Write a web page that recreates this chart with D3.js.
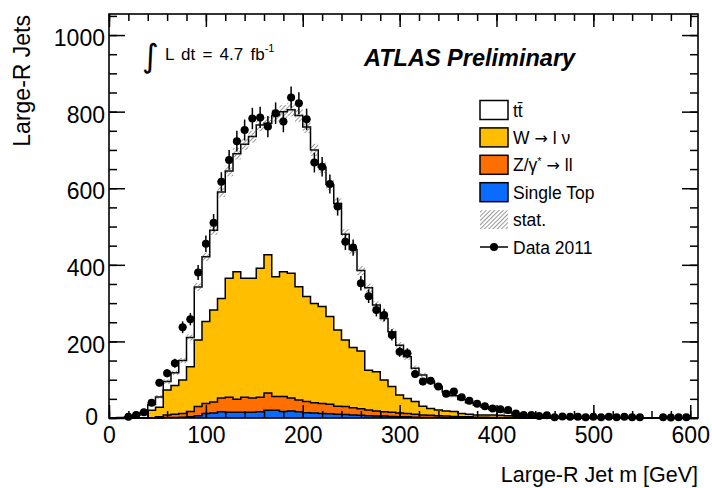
<!DOCTYPE html>
<html>
<head>
<meta charset="utf-8">
<script src="https://cdn.jsdelivr.net/npm/d3@7"></script>
<style>
body { margin: 0; background: #fff; }
text { font-family: 'Liberation Sans', Arial, Helvetica, sans-serif; fill: #000; }
</style>
</head>
<body>
<div id="chart"></div>
<script>
// bins: low edge in GeV, all 8 GeV wide
const binLow = [0,8,16,24,32,40,48,56,64,72,80,88,96,104,112,120,128,136,144,152,160,168,176,184,192,200,208,216,224,232,240,248,256,264,272,280,288,296,304,312,320,328,336,344,352,360,368,376,384,392,400,408,416,424,432,440,448,456,464,472,480,488,496,504,512,520,528,536,544,552,560,568,576,584,592,600];
const binWidth = 8;

// MC samples (events per bin)
const ttbar = [0,1,3,7,15,15,27,22,33,51,76,138,169,208,278,280,308,350,370,374,344,421,418,427,447,443,401,364,345,330,276,256,210,215,174,161,143,130,109,87,81,70,61,50,41,36,30,26,20,14,11,8,5,7,5,4,3,2.5,2,2,1.5,1.5,1.2,1,1,0.8,0.8,0.6,0.6,0.5,0.5,0.4,0.4,0.3,0.3,0.2];
const wlnu = [0,0,0,0,0,20,25,65,75,87,117,174,214,240,260,311,333,311,313,337,361,313,326,326,296,274,259,253,229,199,174,157,151,104,103,83,67,47,39,33,23,18,15,13,13,9,7,6,6,7,6,5,4,0,0,0,0,0,0,0,0,0,0,0,0,0,0,0,0,0,0,0,0,0,0,0];
const zll = [0,0,0,0,0,0,3,7,9,10,14,24,26,29,36,39,34,39,37,38,45,36,39,34,31,29,27,26,25,21,21,19,17,15,13,11,11,10,9,8,7,6,5,5,4,3,3,2,2,1,1,1,1,0,0,0,0,0,0,0,0,0,0,0,0,0,0,0,0,0,0,0,0,0,0,0];
const singleTop = [0,0,0,0,0,0,0,1,1,2,3,6,12,13,16,15,15,15,15,16,20,20,17,18,16,14,13,12,11,10,9,8,7,6,5,5,4,3,3,2,1,1,1,0,0,0,0,0,0,0,0,0,0,0,0,0,0,0,0,0,0,0,0,0,0,0,0,0,0,0,0,0,0,0,0,0];
// MC statistical uncertainty on the total
const statErr = [0,0.5,1.5,2,3,4,5,6,6,7,8,10,11,12,13,14,15,15,16,16,16,16,17,17,17,16,16,15,15,14,13,12,12,11,10,10,9,8,8,7,6,6,5,5,4,4,4,3,3,3,3,2,2,2,2,1.5,1.5,1.5,1,1,1,1,0.8,0.8,0.6,0.6,0.6,0.5,0.5,0.5,0.5,0.4,0.4,0.3,0.3,0.2];

// Data 2011 (null = empty bin)
const data2011 = [null,null,3,8,15,40,92,117,143,237,258,380,455,510,617,674,723,752,782,785,761,796,774,837,822,780,667,656,611,552,460,445,352,318,282,269,217,173,169,115,95,97,82,63,69,54,45,37,31,25,23,21,12,8,8,5,7,2,4,3,3,2,3,2,3,2,3,2,2,null,null,2,1,2,2,null];
const dataErr = [0,0,1.7,2.8,3.9,6.3,9.6,10.8,12,15.4,16,19.5,21.3,22.6,24.8,26,26.9,27.4,28,28,27.6,28.2,27.8,28.9,28.7,27.9,25.8,25.6,24.7,23.5,21.4,21.1,18.8,17.8,16.8,16.4,14.7,13.2,13,10.7,9.7,9.8,9.1,7.9,8.3,7.3,6.7,6.1,5.6,5,4.8,4.6,3.5,2.8,2.8,2.2,2.6,1.4,2,1.7,1.7,1.4,1.7,1.4,1.7,1.4,1.7,1.4,1.4,0,0,1.4,1,1.4,1.4,0];

const xTicks = [0,100,200,300,400,500,600];
const xMinor = d3.range(0, 608, 20);
const yTicks = [0,200,400,600,800,1000];
const yMinor = d3.range(0, 1055, 50);

const width = 712;
const height = 488;

const svg = d3.select('#chart').append('svg')
  .attr('width', width)
  .attr('height', height);

const x = d3.scaleLinear().domain([0, 608]).range([109, 698]);
const y = d3.scaleLinear().domain([0, 1055]).range([418, 14]);

//hatch for the stat band
const defs = svg.append('defs');
defs.append('pattern')
  .attr('id', 'hatch')
  .attr('patternUnits', 'userSpaceOnUse')
  .attr('width', 3)
  .attr('height', 3)
  .attr('patternTransform', 'rotate(45)')
  .append('line')
  .attr('x1', 0).attr('y1', 0).attr('x2', 0).attr('y2', 3)
  .attr('stroke', '#555')
  .attr('stroke-width', 1.2);

//stack the samples: single top at the bottom, ttbar on top
const rows = binLow.map((lo, i) => ({
  lo: lo, st: singleTop[i], z: zll[i], w: wlnu[i], tt: ttbar[i]
}));
const keys = ['st', 'z', 'w', 'tt'];
const colors = { st: '#0a6cff', z: '#ff6f00', w: '#ffbe00', tt: '#ffffff' };
const series = d3.stack().keys(keys)(rows);

//each bin contributes a point at its low and high edge
function stepPoints(layer) {
  const pts = [];
  layer.forEach(d => {
    pts.push({ x: d.data.lo, y0: d[0], y1: d[1] });
    pts.push({ x: d.data.lo + binWidth, y0: d[0], y1: d[1] });
  });
  return pts;
}

const area = d3.area()
  .x(d => x(d.x))
  .y0(d => y(d.y0))
  .y1(d => y(d.y1));
const topLine = d3.line()
  .x(d => x(d.x))
  .y(d => y(d.y1));

const g = svg.append('g');
series.forEach(layer => {
  g.append('path')
    .attr('d', area(stepPoints(layer)))
    .attr('fill', colors[layer.key])
    .attr('stroke', 'none');
});
series.forEach(layer => {
  g.append('path')
    .attr('d', topLine(stepPoints(layer)))
    .attr('fill', 'none')
    .attr('stroke', '#000')
    .attr('stroke-width', 1.5);
});

//stat band on the total
const total = series[series.length - 1];
g.selectAll('rect.stat')
  .data(total)
  .enter().append('rect')
  .attr('class', 'stat')
  .attr('x', (d, i) => x(binLow[i]))
  .attr('width', x(binWidth) - x(0))
  .attr('y', (d, i) => y(d[1] + statErr[i]))
  .attr('height', (d, i) => y(d[1] - statErr[i]) - y(d[1] + statErr[i]))
  .attr('fill', 'url(#hatch)');

//data points with errors
const pts = binLow.map((lo, i) => ({ c: lo + binWidth / 2, v: data2011[i], e: dataErr[i] }))
  .filter(d => d.v !== null);
const dg = svg.append('g');
dg.selectAll('line.ey')
  .data(pts)
  .enter().append('line')
  .attr('x1', d => x(d.c)).attr('x2', d => x(d.c))
  .attr('y1', d => y(d.v + d.e)).attr('y2', d => y(Math.max(d.v - d.e, 0)))
  .attr('stroke', '#000').attr('stroke-width', 1.5);
dg.selectAll('line.ex')
  .data(pts)
  .enter().append('line')
  .attr('x1', d => x(d.c - binWidth / 2)).attr('x2', d => x(d.c + binWidth / 2))
  .attr('y1', d => y(d.v)).attr('y2', d => y(d.v))
  .attr('stroke', '#000').attr('stroke-width', 1.5);
dg.selectAll('circle')
  .data(pts)
  .enter().append('circle')
  .attr('cx', d => x(d.c))
  .attr('cy', d => y(d.v))
  .attr('r', 4)
  .attr('fill', '#000');

//axes, ticks pointing inwards on all four sides
function styleAxis(sel) {
  sel.select('.domain').remove();
  sel.selectAll('line').attr('stroke', '#000').attr('stroke-width', 1.5);
  sel.selectAll('text').style('font-size', '23px').style('font-family', "'Liberation Sans', Arial, sans-serif");
}
svg.append('g').attr('transform', 'translate(0,418)')
  .call(d3.axisBottom(x).tickValues(xTicks).tickSize(-13).tickPadding(9).tickFormat(d3.format('d')))
  .call(styleAxis);
svg.append('g').attr('transform', 'translate(0,418)')
  .call(d3.axisBottom(x).tickValues(xMinor).tickSize(-7).tickFormat(''))
  .call(styleAxis);
svg.append('g').attr('transform', 'translate(0,14)')
  .call(d3.axisTop(x).tickValues(xTicks).tickSize(-13).tickFormat(''))
  .call(styleAxis);
svg.append('g').attr('transform', 'translate(0,14)')
  .call(d3.axisTop(x).tickValues(xMinor).tickSize(-7).tickFormat(''))
  .call(styleAxis);
const yAx = svg.append('g').attr('transform', 'translate(109,0)')
  .call(d3.axisLeft(y).tickValues(yTicks).tickSize(-16).tickPadding(4).tickFormat(d3.format('d')))
  .call(styleAxis);
yAx.selectAll('text').attr('dy', '0.46em');
yAx.selectAll('.tick').filter(d => d === 0).select('text').attr('x', -11).attr('dy', '0.3em');
svg.append('g').attr('transform', 'translate(109,0)')
  .call(d3.axisLeft(y).tickValues(yMinor).tickSize(-8).tickFormat(''))
  .call(styleAxis);
svg.append('g').attr('transform', 'translate(698,0)')
  .call(d3.axisRight(y).tickValues(yTicks).tickSize(-16).tickFormat(''))
  .call(styleAxis);
svg.append('g').attr('transform', 'translate(698,0)')
  .call(d3.axisRight(y).tickValues(yMinor).tickSize(-8).tickFormat(''))
  .call(styleAxis);

//frame
svg.append('rect')
  .attr('x', 109).attr('y', 14)
  .attr('width', 698 - 109).attr('height', 418 - 14)
  .attr('fill', 'none')
  .attr('stroke', '#000')
  .attr('stroke-width', 1.6);

//axis titles
svg.append('text')
  .attr('x', 698).attr('y', 482)
  .style('font-size', '21.5px')
  .style('text-anchor', 'end')
  .text('Large-R Jet m [GeV]');
svg.append('text')
  .attr('transform', 'translate(30,15) rotate(-90)')
  .style('font-size', '23px')
  .style('text-anchor', 'end')
  .text('Large-R Jets');

//luminosity
svg.append('text')
  .attr('x', 142).attr('y', 67)
  .style('font-size', '32px')
  .style('font-family', "'DejaVu Sans', sans-serif")
  .text('\u222B');
const lumi = svg.append('text')
  .attr('x', 165).attr('y', 60)
  .style('font-size', '17px')
  .style('word-spacing', '2.5px');
lumi.append('tspan').text('L dt = 4.7 fb');
lumi.append('tspan').attr('dy', -8).style('font-size', '11px').text('-1');

svg.append('text')
  .attr('x', 364).attr('y', 66)
  .style('font-size', '23.5px')
  .style('font-weight', 'bold')
  .style('font-style', 'italic')
  .text('ATLAS Preliminary');

//legend
const legendItems = [
  { key: 'tt', label: 'tt\u0304', fill: '#ffffff' },
  { key: 'w', label: 'W \u2192 l \u03BD', fill: colors.w },
  { key: 'z', label: 'Z/\u03B3* \u2192 ll', fill: colors.z },
  { key: 'st', label: 'Single Top', fill: colors.st },
  { key: 'stat', label: 'stat.', fill: 'url(#hatch)' },
  { key: 'data', label: 'Data 2011', fill: null }
];
const arrowFont = "'DejaVu Sans', sans-serif";
const lg = svg.append('g');
legendItems.forEach((it, i) => {
  const cy = 110 + i * 27.4;
  if (it.key === 'data') {
    lg.append('line')
      .attr('x1', 480).attr('x2', 508).attr('y1', cy).attr('y2', cy)
      .attr('stroke', '#000').attr('stroke-width', 1.5);
    lg.append('circle').attr('cx', 494).attr('cy', cy).attr('r', 4).attr('fill', '#000');
  } else {
    lg.append('rect')
      .attr('x', 480).attr('y', cy - 9.5)
      .attr('width', 28).attr('height', 19)
      .attr('fill', it.fill)
      .attr('stroke', it.key === 'stat' ? 'none' : '#000')
      .attr('stroke-width', 1.5);
  }
  const t = lg.append('text')
    .attr('x', 513).attr('y', cy + 6.5)
    .style('font-size', '17.5px');
  if (it.key === 'w') {
    t.append('tspan').text('W ');
    t.append('tspan').style('font-family', arrowFont).style('font-size', '16px').text('\u2192');
    t.append('tspan').text(' l \u03BD');
  } else if (it.key === 'z') {
    t.append('tspan').text('Z/\u03B3');
    t.append('tspan').attr('dy', -6).style('font-size', '11px').text('*');
    t.append('tspan').attr('dy', 6).text(' ');
    t.append('tspan').style('font-family', arrowFont).style('font-size', '16px').text('\u2192');
    t.append('tspan').text(' ll');
  } else {
    t.text(it.label);
  }
});
</script>
</body>
</html>
